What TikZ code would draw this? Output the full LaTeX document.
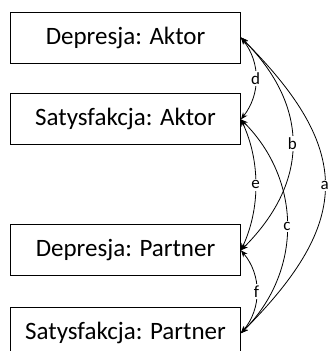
\documentclass[tikz,border=0pt]{standalone}
\usepackage{fontspec}
\setmainfont{Carlito}
\usetikzlibrary{positioning, arrows.meta}

\begin{document}
\begin{tikzpicture}[
		box/.style={rectangle, draw, line width=0.9pt, minimum width=230pt, minimum height=51pt, inner sep=0pt, font=\fontsize{25}{28}\selectfont},
		lbl/.style={fill=white, inner sep=1.5pt, font=\fontsize{17}{19}\selectfont},
		link/.style={<->, >={Stealth[length=7pt, width=5.5pt]}, line width=0.8pt},
	]
			\useasboundingbox (0,0) rectangle (331pt,-351pt);
			% Define the nodes
			\node (depA) [box] at (125.5pt,-37.5pt) {Depresja: Aktor};
			\node (satA) [box, below=30pt of depA] {Satysfakcja: Aktor};
			\node (depP) [box, below=79pt of satA] {Depresja: Partner};
			\node (satP) [box, below=31pt of depP] {Satysfakcja: Partner};
			% Connect the nodes
			\draw [link] (depA.east) to [bend left=45, looseness=1.37] node [lbl] {a} (satP.east);
			\draw [link] (depA.east) to [bend left=45, looseness=1.17] node [lbl] {b} (depP.east);
			\draw [link] (satA.east) to [bend left=45, looseness=1.04] node [lbl] {c} (satP.east);
			\draw [link] (depA.east) to [bend left=38] node [lbl] {d} (satA.east);
			\draw [link] (satA.east) to [bend left=25, looseness=0.9] node [lbl] {e} (depP.east);
			\draw [link] (depP.east) to [bend left=40] node [lbl] {f} (satP.east);
		\end{tikzpicture}
\end{document}
